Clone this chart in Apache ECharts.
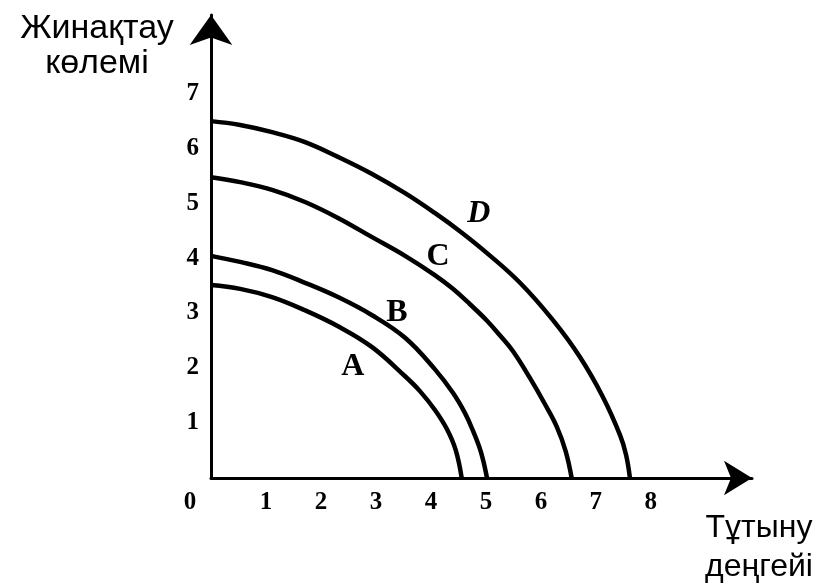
<!DOCTYPE html>
<html>
<head>
<meta charset="utf-8">
<script src="https://cdn.jsdelivr.net/npm/echarts@6/dist/echarts.min.js"></script>
<style>
  html, body { margin: 0; padding: 0; background: #fff; }
  #chart { width: 821px; height: 584px; }
</style>
</head>
<body>
<div id="chart"></div>
<script>
// Жинақтау / тұтыну қисықтары (A, B, C, D)
const curveA = [[0, 3.51], [0.53, 3.44], [1.11, 3.29], [1.71, 3.05], [2.31, 2.76], [2.93, 2.38], [3.53, 1.85], [3.8, 1.58], [4.07, 1.24], [4.29, 0.89], [4.45, 0.51], [4.56, 0]];
const curveB = [[0, 4.04], [0.53, 3.93], [1.11, 3.78], [1.71, 3.55], [2.31, 3.29], [2.93, 2.96], [3.53, 2.55], [4.07, 1.98], [4.4, 1.55], [4.62, 1.18], [4.76, 0.87], [4.91, 0.47], [5.02, 0]];
const curveC = [[0, 5.47], [0.53, 5.38], [1.11, 5.24], [1.71, 5.02], [2.31, 4.73], [2.93, 4.38], [3.53, 4.04], [4.07, 3.69], [4.4, 3.44], [4.71, 3.16], [5.02, 2.86], [5.25, 2.6], [5.49, 2.31], [5.8, 1.82], [6.07, 1.35], [6.29, 0.93], [6.45, 0.49], [6.56, 0]];
const curveD = [[0, 6.49], [0.53, 6.42], [1.11, 6.29], [1.71, 6.11], [2.31, 5.84], [2.93, 5.53], [3.53, 5.18], [4.07, 4.82], [4.55, 4.47], [5.02, 4.09], [5.62, 3.55], [6.22, 2.87], [6.71, 2.2], [7.13, 1.47], [7.44, 0.78], [7.55, 0.42], [7.62, 0]];

const curveNames = ['A', 'B', 'C', 'D'];
// қисық белгілерінің орны (деректер координатасы)
const labelCoords = [[2.58, 2.02], [3.38, 3.0], [4.13, 4.02], [4.87, 4.8]];

const xTickLabels = ['0', '1', '2', '3', '4', '5', '6', '7', '8'];
const yTickLabels = ['1', '2', '3', '4', '5', '6', '7'];

const chart = echarts.init(document.getElementById('chart'));

const serifBold = {
  fontFamily: '"Liberation Serif", "DejaVu Serif", serif',
  fontWeight: 'bold',
  color: '#000',
};
const tickFont = { ...serifBold, fontSize: 25 };

const curves = [curveA, curveB, curveC, curveD];

const series = curves.map((data, i) => ({
  name: curveNames[i],
  type: 'line',
  data: data,
  smooth: 0.4,
  symbol: 'none',
  clip: false,
  lineStyle: { color: '#000', width: 4.5 },
  markPoint: {
    symbol: 'circle',
    symbolSize: 0,
    data: [{ coord: labelCoords[i], value: curveNames[i] }],
    label: {
      show: true,
      position: 'inside',
      formatter: curveNames[i],
      ...serifBold,
      fontSize: 32,
      fontStyle: curveNames[i] === 'D' ? 'italic' : 'normal',
    },
  },
}));

const option = {
  animation: false,
  backgroundColor: '#fff',
  grid: {
    left: 211,
    right: 69,
    top: 15,
    bottom: 106,
    containLabel: false,
    outerBoundsMode: 'none',
  },
  xAxis: {
    type: 'value',
    min: 0,
    max: 9.84,
    interval: 1,
    name: 'Тұтыну\nдеңгейі',
    nameLocation: 'end',
    nameGap: 7,
    nameTextStyle: {
      fontFamily: '"Liberation Sans", Arial, sans-serif',
      fontSize: 32,
      lineHeight: 39,
      color: '#000',
      align: 'center',
      verticalAlign: 'top',
      padding: [31, 0, 0, 0],
    },
    axisLine: {
      lineStyle: { color: '#000', width: 3 },
      symbol: ['none', 'arrow'],
      symbolSize: [26, 28],
    },
    axisTick: { show: false },
    splitLine: { show: false },
    axisLabel: {
      ...tickFont,
      margin: 12,
      showMinLabel: true,
      formatter: function (value) {
        const label = xTickLabels[Math.round(value)];
        if (label === undefined || Math.abs(value - Math.round(value)) > 1e-6) return '';
        return value === 0 ? '{z|' + label + '}' : label;
      },
      rich: {
        z: { ...tickFont, padding: [0, 42, 0, 0] },
      },
    },
  },
  yAxis: {
    type: 'value',
    min: 0,
    max: 8.42,
    interval: 1,
    name: 'Жинақтау\nкөлемі',
    nameLocation: 'end',
    nameGap: -6,
    nameTextStyle: {
      fontFamily: '"Liberation Sans", Arial, sans-serif',
      fontSize: 34,
      lineHeight: 35,
      color: '#000',
      align: 'center',
      verticalAlign: 'top',
      padding: [0, 228, 0, 0],
    },
    axisLine: {
      show: true,
      lineStyle: { color: '#000', width: 3 },
      symbol: ['none', 'arrow'],
      symbolSize: [32, 30],
    },
    axisTick: { show: false },
    splitLine: { show: false },
    axisLabel: {
      ...tickFont,
      margin: 12,
      formatter: function (value) {
        const i = yTickLabels.indexOf(String(value));
        return i >= 0 ? yTickLabels[i] : '';
      },
    },
  },
  series: series,
};

chart.setOption(option);

window.addEventListener('resize', () => chart.resize());
</script>
</body>
</html>
